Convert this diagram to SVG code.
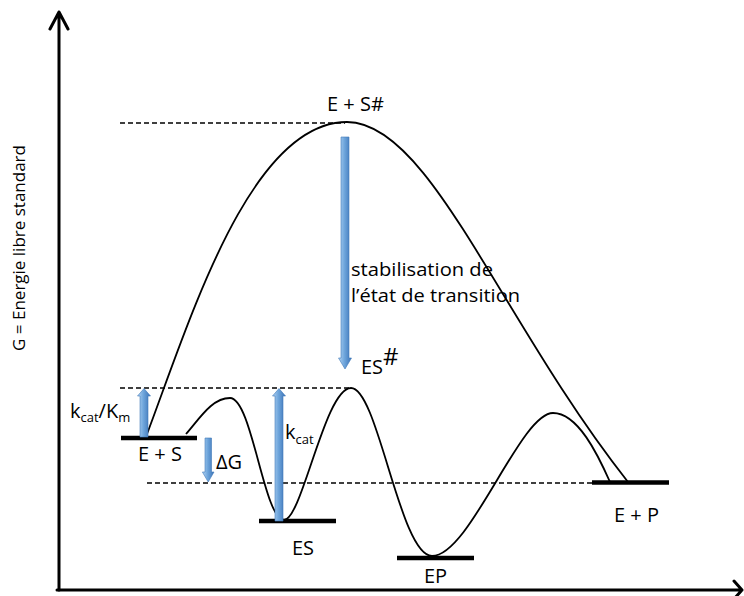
<svg xmlns="http://www.w3.org/2000/svg" width="744" height="596" viewBox="0 0 744 596">
<style>
.axis{fill:none;stroke:#000;stroke-width:3;stroke-linecap:round;stroke-linejoin:round}
.curve{fill:none;stroke:#000;stroke-width:1.8}
.dash{fill:none;stroke:#000;stroke-width:1.3;stroke-dasharray:5 3}
.level{fill:none;stroke:#000;stroke-width:4.5}
.blue{fill:url(#bg);stroke:#3f78b8;stroke-width:0.6}
text{font-family:"Open Sans","Liberation Sans",sans-serif;fill:#000}
.t{font-size:20px}
.s{font-size:19px}
.sub{font-size:13px}
</style>
<defs>
<linearGradient id="bg" x1="0" y1="0" x2="1" y2="0">
<stop offset="0" stop-color="#b3d3f2"/>
<stop offset="0.45" stop-color="#6fa6dc"/>
<stop offset="1" stop-color="#3b72b6"/>
</linearGradient>
</defs>
<g id="axes">
<path class="axis" d="M59,590 V12 M50,29 L59,12 L68,29"/>
<path class="axis" d="M57,590 H742 M734,581 L742,590 L734,599"/>
<text transform="translate(25,248) rotate(-90)" text-anchor="middle" style="font-size:17px">G = Energie libre standard</text>
</g>
<g id="connectors">
<path class="dash" d="M120,123 H345"/>
<path class="dash" d="M120,388 H352"/>
<path class="dash" d="M147,483 H595"/>
<path class="curve" d="M147,434 C190,320 250,122 347,122 C430,122 500,320 628,482"/>
<path class="curve" d="M186,434 C200,418 212,398 230,398 C252,398 264,520 284,520 C302,520 325,388 351,388 C378,388 400,556 432,556 C470,556 520,413 553,413 C578,413 598,455 610,482"/>
</g>
<g id="level-ES-E">
<path class="level" d="M121,438 H197"/>
<text class="t" x="138" y="461">E + S</text>
</g>
<g id="level-ES">
<path class="level" d="M259,521 H336"/>
<text class="t" x="292" y="555">ES</text>
</g>
<g id="level-EP">
<path class="level" d="M397,558 H474"/>
<text class="t" x="424" y="583">EP</text>
</g>
<g id="level-E-P">
<path class="level" d="M592,482.5 H669"/>
<text class="t" x="614" y="522">E + P</text>
</g>
<g id="transition-ES">
<text class="t" x="327" y="111">E + S#</text>
</g>
<g id="arrow-stab">
<path class="blue" d="M341,137 H349 V358 H351.5 L345,369 L338.5,358 H341 Z"/>
<text class="s" x="351" y="276" textLength="142" lengthAdjust="spacingAndGlyphs">stabilisation de</text>
<text class="s" x="351" y="302" textLength="169" lengthAdjust="spacingAndGlyphs">l’état de transition</text>
<text class="t" x="361" y="374">ES<tspan dy="-9" style="font-size:24px">#</tspan></text>
</g>
<g id="arrow-kcatKm">
<path class="blue" d="M140,437 V396 H137.5 L144,388.5 L150.5,396 H148 V437 Z"/>
<text class="t" x="70" y="418">k<tspan class="sub" dy="4">cat</tspan><tspan dy="-4">/K</tspan><tspan class="sub" dy="4">m</tspan></text>
</g>
<g id="arrow-dG">
<path class="blue" d="M205,438 H211.5 V472 H214 L208.2,482 L202.4,472 H205 Z"/>
<text class="t" x="216" y="469">ΔG</text>
</g>
<g id="arrow-kcat">
<path class="blue" d="M275,521 V396 H272.5 L279,388.5 L285.5,396 H283 V521 Z"/>
<text class="t" x="285" y="439">k<tspan class="sub" dy="5">cat</tspan></text>
</g>
</svg>
